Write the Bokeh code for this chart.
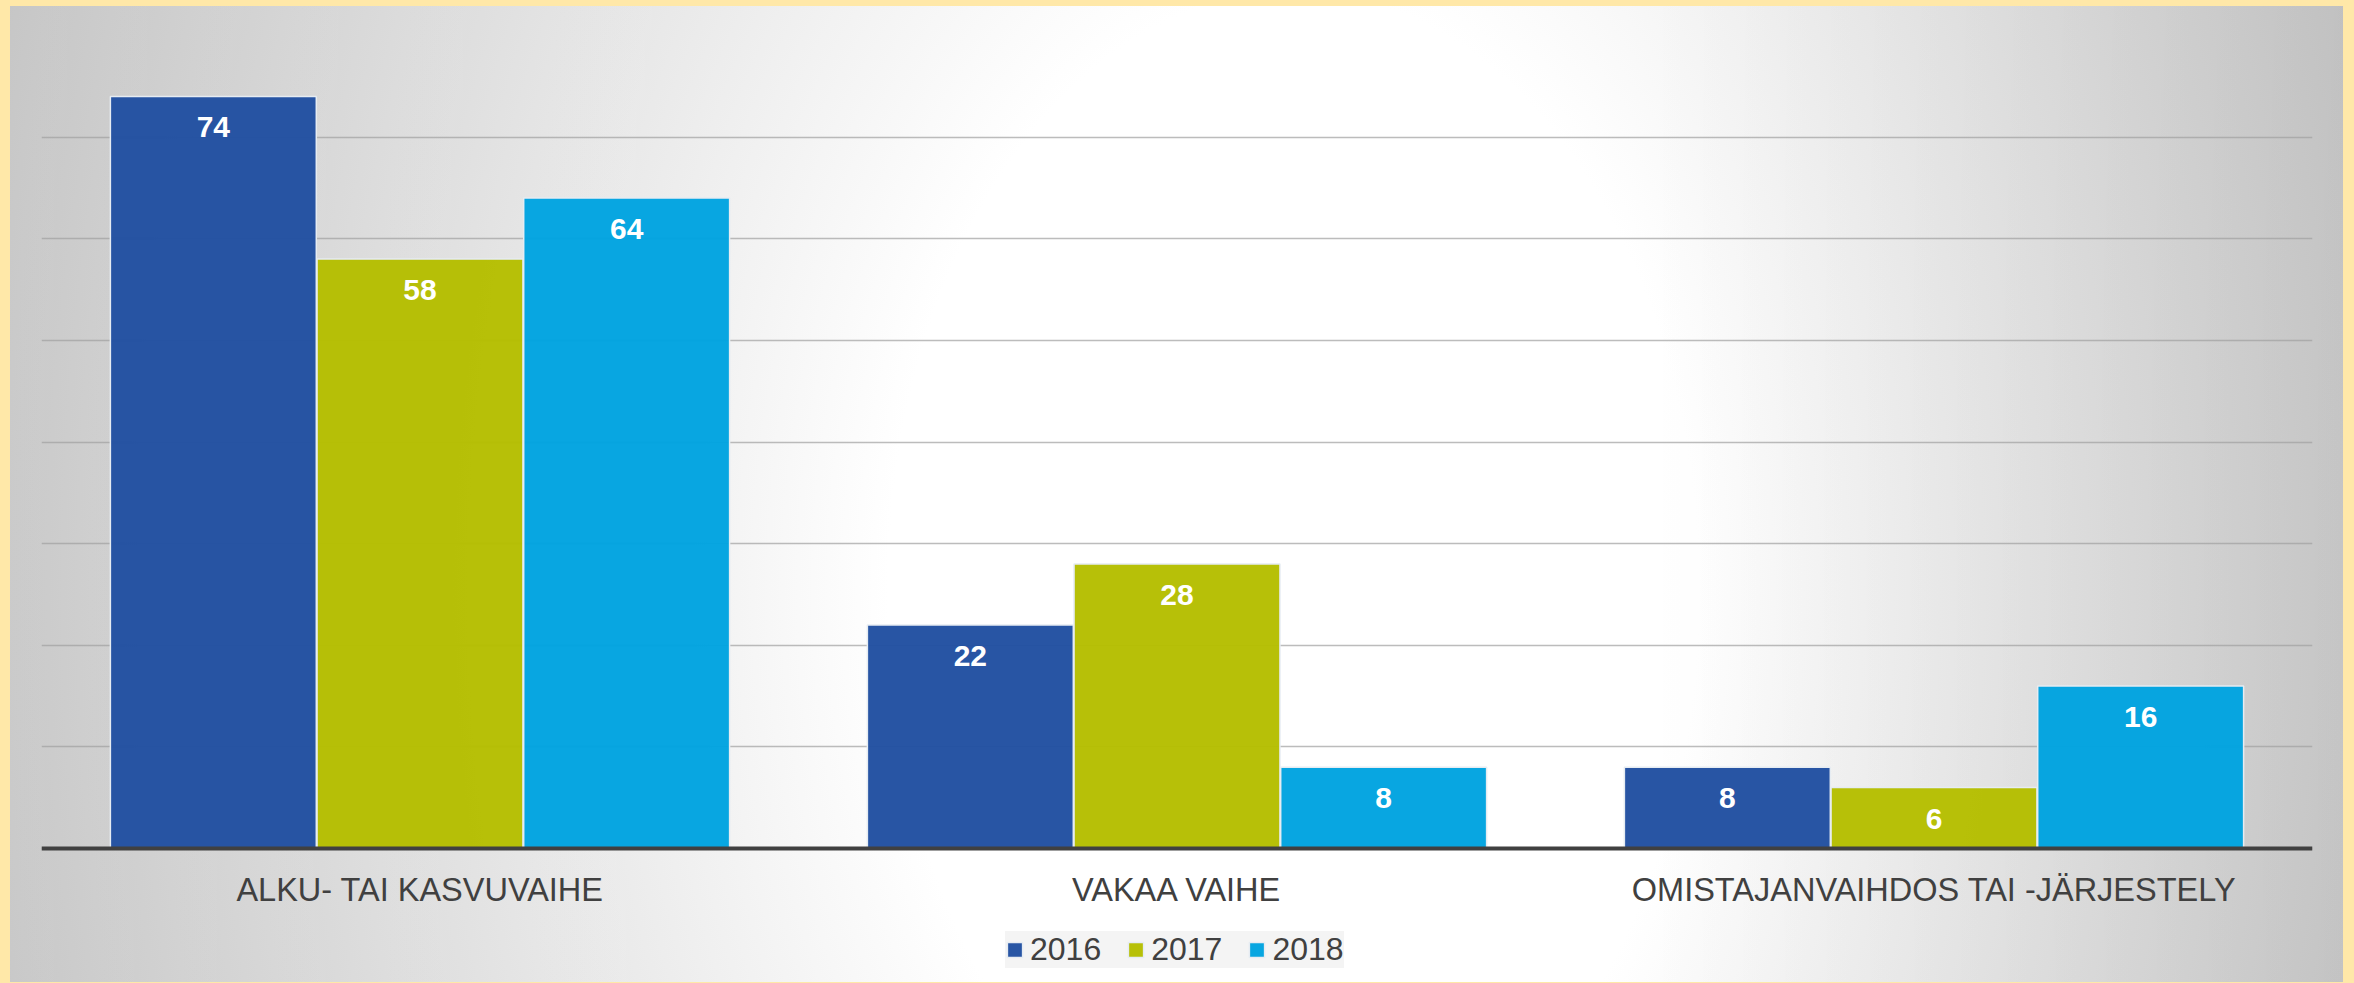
from bokeh.plotting import figure
from bokeh.models import (FactorRange, Range1d, ColumnDataSource, Legend, LegendItem,
                          FixedTicker, GlobalInlineStyleSheet)
from bokeh.transform import dodge
from bokeh.core.properties import value
from bokeh.embed import file_html
from bokeh.resources import INLINE

categories = ["ALKU- TAI KASVUVAIHE", "VAKAA VAIHE", "OMISTAJANVAIHDOS TAI -JÄRJESTELY"]
years = ["2016", "2017", "2018"]
v2016 = [74, 22, 8]
v2017 = [58, 28, 6]
v2018 = [64, 8, 16]
y_ticks = [0, 10, 20, 30, 40, 50, 60, 70, 80]

colors = ["#2150A1", "#B5BE00", "#00A3E0"]
series = [v2016, v2017, v2018]
offsets = [-0.273, 0.0, 0.273]

# layout (pixels)
W, H = 2333, 976
TOP = 29            # frame top -> value 80
AXIS_Y = 842        # pixel row of value 0
y_max = 80
y_min = -y_max * (H - AXIS_Y) / (AXIS_Y - TOP)   # frame extends below the axis down to the bottom

p = figure(x_range=FactorRange(*categories, range_padding=0, factor_padding=0),
           y_range=Range1d(y_min, y_max), width=W, height=H,
           output_backend="svg", toolbar_location=None,
           min_border_left=31, min_border_right=31, min_border_top=TOP, min_border_bottom=0)
p.margin = (6, 0, 0, 10)
p.border_fill_color = None
p.background_fill_color = None
p.outline_line_color = None
p.styles = {"background": (
    "linear-gradient(to right, rgba(255,255,255,0.10) 0%, rgba(255,255,255,0) 35%, "
    "rgba(0,0,0,0) 70%, rgba(0,0,0,0.07) 100%), "
    "radial-gradient(ellipse 1350px 2000px at 55% 60%, #ffffff 0%, #ffffff 30%, #c0c0c0 100%)")}
p.stylesheets = [GlobalInlineStyleSheet(css="body { background: #FFE8A8; }")]

p.yaxis.visible = False
p.ygrid.ticker = FixedTicker(ticks=y_ticks)
p.ygrid.grid_line_color = "#a0a0a0"
p.ygrid.grid_line_alpha = 0.7
p.ygrid.grid_line_width = 1.5
p.xgrid.grid_line_color = None

xa = p.xaxis[0]
xa.fixed_location = 0
xa.axis_line_color = "#404040"
xa.axis_line_width = 4
xa.major_tick_line_color = None
xa.minor_tick_line_color = None
xa.major_label_text_font = "Liberation Sans"
xa.major_label_text_font_size = "32.5px"
xa.major_label_text_color = "#404040"
xa.major_label_standoff = 17

items = []
for yr, vals, col, off in zip(years, series, colors, offsets):
    src = ColumnDataSource(dict(cat=categories, val=vals, lab=[str(v) for v in vals]))
    r = p.vbar(x=dodge("cat", off, range=p.x_range), top="val", bottom=0, width=0.272, source=src,
               fill_color=col, fill_alpha=0.97, line_color="#e6ecf2", line_width=1.5)
    p.text(x=dodge("cat", off, range=p.x_range), y="val", text="lab", source=src,
           text_color="white", text_font=value("Liberation Sans"), text_font_style="bold",
           text_font_size="30px", text_align="center", text_baseline="middle", y_offset=31)
    items.append(LegendItem(label=yr, renderers=[r]))

legend = Legend(items=items, orientation="horizontal", location=(964, 14),
                background_fill_color="#f4f4f4", background_fill_alpha=1.0,
                border_line_color=None, glyph_width=19, glyph_height=19,
                label_text_font="Liberation Sans", label_text_font_size="32px",
                label_text_color="#404040", label_standoff=6, spacing=25, padding=10,
                margin=0, label_height=32)
p.add_layout(legend, "center")

open("out.html", "w").write(file_html(p, INLINE))
